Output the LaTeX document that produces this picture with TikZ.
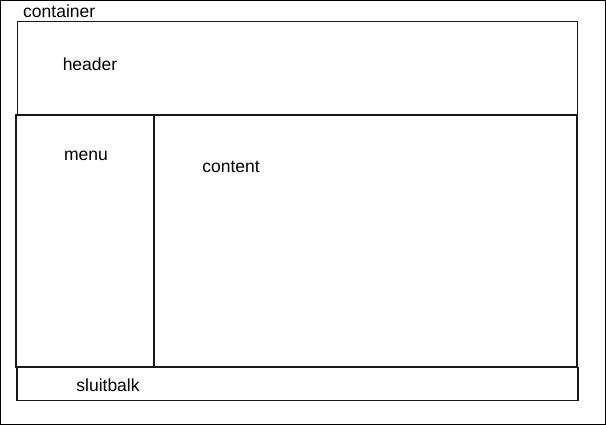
\documentclass[tikz,border=0pt]{standalone}
\usepackage{fontspec}
\setmainfont{Liberation Sans}
\begin{document}
\begin{tikzpicture}[x=1pt,y=-1pt,
  box/.style={draw=black!90,line width=1.6pt,inner sep=0pt},
  lbl/.style={inner sep=0pt,font=\fontsize{17.5}{20}\selectfont}]
\useasboundingbox (0,0) rectangle (606,425);
\draw[line width=1.2pt] (0.6,0.6) rectangle (605.4,424.4);
\node[box,minimum width=560pt,minimum height=94pt] (header) at (297.3,68.5) {};
\node[box,minimum width=138pt,minimum height=252pt] (menu) at (85,241) {};
\node[box,minimum width=423pt,minimum height=252pt] (content) at (365.5,241) {};
\node[box,minimum width=561pt,minimum height=33pt] (sluitbalk) at (297.5,384) {};
\node[lbl,anchor=west] (tcontainer) at (23,11) {container};
\node[lbl] (theader) at (90,64) {header};
\node[lbl] (tmenu) at (86,156) {menu};
\node[lbl] (tcontent) at (231,167) {content};
\node[lbl] (tsluitbalk) at (108,385) {sluitbalk};
\end{tikzpicture}
\end{document}
